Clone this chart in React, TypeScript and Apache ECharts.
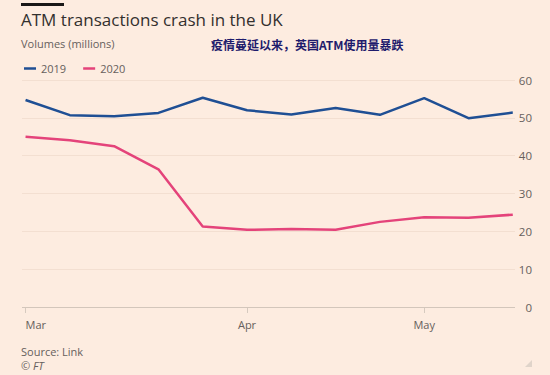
import React, { useEffect, useRef } from "react";
import * as echarts from "echarts";

const weeks = ["Mar 1", "Mar 8", "Mar 15", "Mar 22", "Mar 29", "Apr 5", "Apr 12", "Apr 19", "Apr 26", "May 3", "May 10", "May 17"];
const values2019 = [54.7, 50.7, 50.4, 51.3, 55.3, 52.0, 50.9, 52.6, 50.8, 55.2, 49.9, 51.4];
const values2020 = [45.0, 44.1, 42.5, 36.4, 21.3, 20.4, 20.6, 20.4, 22.5, 23.7, 23.6, 24.4];
const monthLabels = ["Mar", "Apr", "May"];
const monthPositions = [0, 5, 9];
const yTicks = [0, 10, 20, 30, 40, 50, 60];

const FONT = "'Open Sans', sans-serif";
const BG = "#fdece0";
const GREY = "#66605c";

export default function App() {
  const ref = useRef<HTMLDivElement>(null);
  useEffect(() => {
    if (!ref.current) return;
    const chart = echarts.init(ref.current, null, { renderer: "svg" });
    chart.setOption({
      animation: false,
      backgroundColor: BG,
      textStyle: { fontFamily: FONT },
      grid: { left: 22, right: 35, top: 80, bottom: 68, containLabel: false },
      legend: {
        left: 19,
        top: 58,
        icon: "rect",
        itemWidth: 12,
        itemHeight: 2.5,
        itemGap: 17,
        textStyle: { color: GREY, fontSize: 11, fontFamily: FONT },
        data: ["2019", "2020"],
      },
      xAxis: {
        type: "value",
        min: -0.08,
        max: 11.05,
        splitLine: { show: false },
        axisLine: { show: false },
        axisTick: {
          show: true,
          customValues: monthPositions,
          length: 6,
          lineStyle: { color: "#d6cabf", width: 1 },
        },
        axisLabel: {
          customValues: monthPositions,
          formatter: (v: number) => monthLabels[monthPositions.indexOf(Math.round(v))] ?? "",
          color: GREY,
          fontSize: 11,
          fontFamily: FONT,
          margin: 12,
          alignMinLabel: "left",
        },
      },
      yAxis: {
        type: "value",
        position: "right",
        min: yTicks[0],
        max: yTicks[yTicks.length - 1],
        interval: 10,
        axisLine: { show: false },
        axisTick: { show: false },
        splitLine: { lineStyle: { color: "#f3dfd1", width: 1 } },
        axisLabel: {
          color: GREY,
          fontSize: 11.5,
          fontFamily: FONT,
          align: "right",
          margin: 17,
        },
      },
      series: [
        {
          name: "2019",
          type: "line",
          data: values2019.map((v, i) => [i, v]),
          symbol: "none",
          lineStyle: { color: "#1f4f94", width: 2.5 },
          itemStyle: { color: "#1f4f94" },
          z: 3,
        },
        {
          name: "2020",
          type: "line",
          data: values2020.map((v, i) => [i, v]),
          symbol: "none",
          lineStyle: { color: "#e4437a", width: 2.5 },
          itemStyle: { color: "#e4437a" },
          z: 3,
          markLine: {
            silent: true,
            symbol: "none",
            label: { show: false },
            lineStyle: { color: "#d3c6bb", width: 1, type: "solid" },
            data: [{ yAxis: 0 }],
          },
        },
      ],
      graphic: [
        { type: "rect", left: 21, top: 3, shape: { width: 43, height: 3 }, style: { fill: "#1a1817" } },
        {
          type: "text",
          left: 21,
          top: 11,
          style: { text: "ATM transactions crash in the UK", fill: "#33302e", font: `17px ${FONT}` },
        },
        {
          type: "text",
          left: 21,
          top: 38,
          style: { text: "Volumes (millions)", fill: GREY, font: `11px ${FONT}` },
        },
        {
          type: "text",
          left: 211,
          top: 38,
          style: { text: "疫情蔓延以来，英国ATM使用量暴跌", fill: "#1e1b6c", font: `bold 12px 'Noto Sans CJK SC', sans-serif` },
        },
        {
          type: "text",
          left: 21,
          top: 345,
          style: { text: "Source: Link", fill: GREY, font: `11px ${FONT}`, lineHeight: 12 },
        },
        {
          type: "text",
          left: 21,
          top: 359,
          style: { text: "© FT", fill: GREY, font: `italic 11px ${FONT}`, lineHeight: 12 },
        },
        {
          type: "polygon",
          shape: { points: [[532, 360], [532, 367], [525, 367]] },
          style: { fill: "#e0d4ca" },
        },
      ],
    });
    return () => chart.dispose();
  }, []);
  return <div ref={ref} style={{ width: 550, height: 375, position: "absolute", left: 0, top: 0 }} />;
}
